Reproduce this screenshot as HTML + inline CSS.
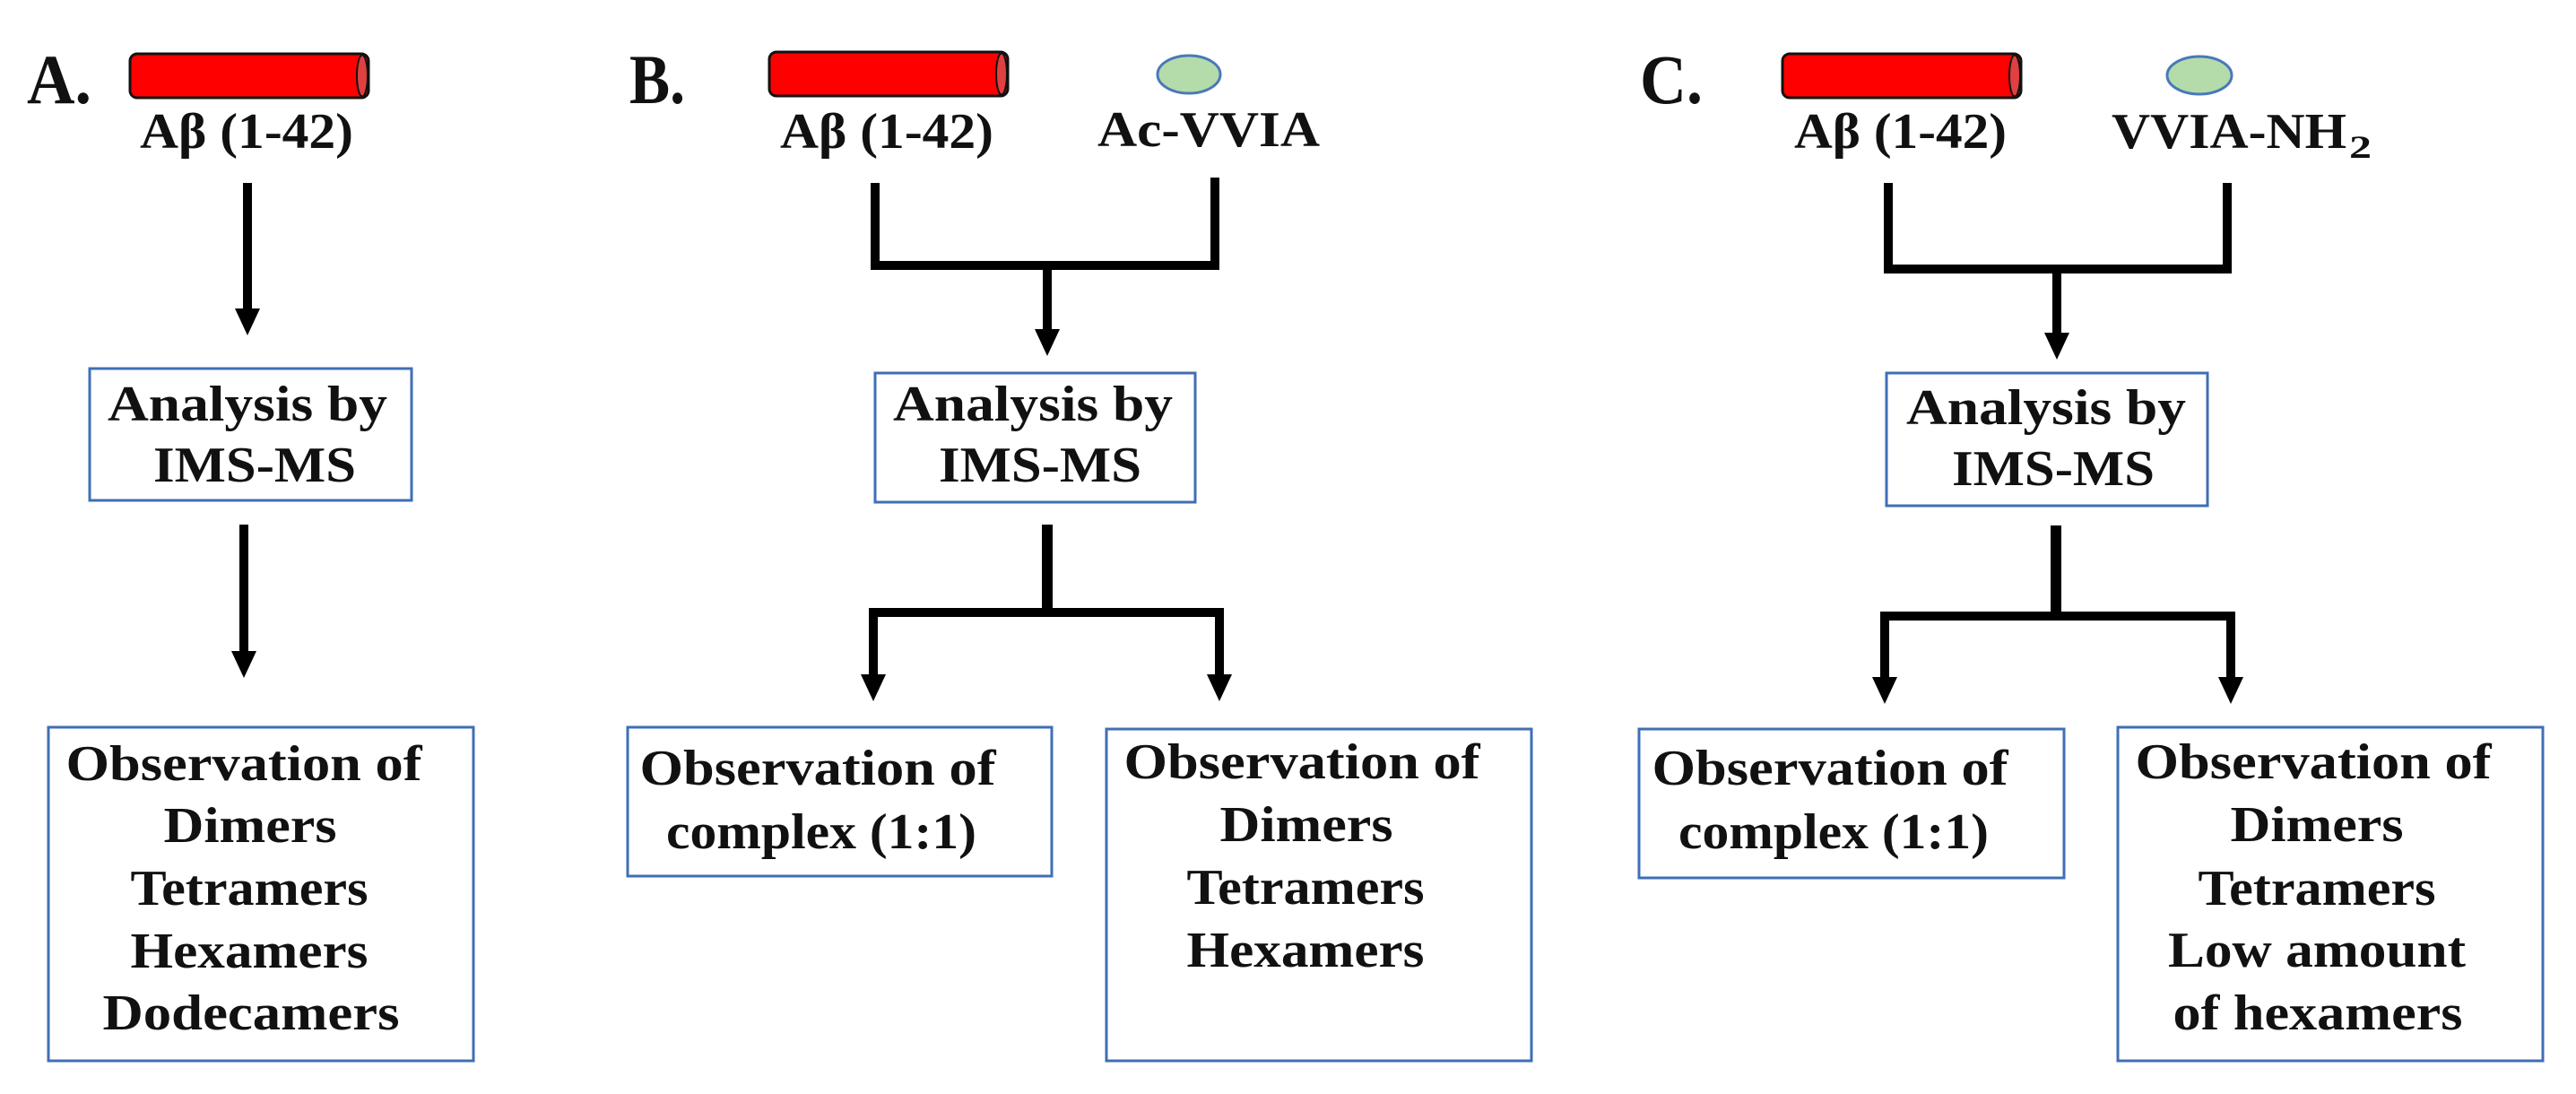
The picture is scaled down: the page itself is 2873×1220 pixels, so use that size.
<!DOCTYPE html>
<html><head><meta charset="utf-8"><style>
html,body{margin:0;padding:0;background:#fff;}
svg{display:block;}
text{font-family:"Liberation Serif",serif;font-weight:bold;fill:#111;}
</style></head><body>
<svg width="2873" height="1220" viewBox="0 0 2873 1220" xmlns="http://www.w3.org/2000/svg">
<defs>
<g id="tube">
<rect x="0" y="0" width="266" height="49" rx="8" fill="#ff0000" stroke="#111" stroke-width="3"/>
<ellipse cx="259" cy="24.5" rx="6" ry="23" fill="#e04040" stroke="#111" stroke-width="2"/>
</g>
</defs>
<g fill="none" stroke="#000" stroke-width="10">
<line x1="276" y1="204" x2="276" y2="350"/>
<line x1="272" y1="585" x2="272" y2="730"/>
<polyline points="976,204 976,296 1355,296 1355,198"/>
<line x1="1168" y1="296" x2="1168" y2="372"/>
<line x1="1168" y1="585" x2="1168" y2="685" stroke-width="12"/>
<polyline points="974,757 974,683 1360,683 1360,757"/>
<polyline points="2106,204 2106,300 2484,300 2484,204"/>
<line x1="2294" y1="300" x2="2294" y2="376"/>
<line x1="2293" y1="586" x2="2293" y2="687" stroke-width="12"/>
<polyline points="2102,760 2102,687 2488,687 2488,760"/>
</g>
<g fill="#000">
<polygon points="262,344 290,344 276,374"/>
<polygon points="258,726 286,726 272,756"/>
<polygon points="1154,367 1182,367 1168,397"/>
<polygon points="960,752 988,752 974,782"/>
<polygon points="1346,752 1374,752 1360,782"/>
<polygon points="2280,371 2308,371 2294,401"/>
<polygon points="2088,755 2116,755 2102,785"/>
<polygon points="2474,755 2502,755 2488,785"/>
</g>
<use href="#tube" x="145" y="60"/>
<use href="#tube" x="858" y="58"/>
<use href="#tube" x="1988" y="60"/>
<ellipse cx="1326" cy="83" rx="35" ry="21" fill="#b3dcaa" stroke="#4a78b8" stroke-width="3"/>
<ellipse cx="2453" cy="84" rx="36" ry="21" fill="#b3dcaa" stroke="#4a78b8" stroke-width="3"/>
<g fill="none" stroke="#3f6fb5" stroke-width="3">
<rect x="100" y="411" width="359" height="147"/>
<rect x="54" y="811" width="474" height="372"/>
<rect x="976" y="416" width="357" height="144"/>
<rect x="700" y="811" width="473" height="166"/>
<rect x="1234" y="813" width="474" height="370"/>
<rect x="2104" y="416" width="358" height="148"/>
<rect x="1828" y="813" width="474" height="166"/>
<rect x="2362" y="811" width="474" height="372"/>
</g>
<g font-size="78">
<text x="30" y="115" textLength="72" lengthAdjust="spacingAndGlyphs">A.</text>
<text x="702" y="115" textLength="62" lengthAdjust="spacingAndGlyphs">B.</text>
<text x="1829" y="115" textLength="70" lengthAdjust="spacingAndGlyphs">C.</text>
</g>
<g font-size="56">
<text x="156" y="165" textLength="238" lengthAdjust="spacingAndGlyphs">Aβ (1-42)</text>
<text x="870" y="165" textLength="238" lengthAdjust="spacingAndGlyphs">Aβ (1-42)</text>
<text x="2001" y="165" textLength="237" lengthAdjust="spacingAndGlyphs">Aβ (1-42)</text>
<text x="1224" y="163" textLength="248" lengthAdjust="spacingAndGlyphs">Ac-VVIA</text>
<text x="2355" y="165" textLength="262" lengthAdjust="spacingAndGlyphs">VVIA-NH</text>
<text x="2620" y="176" font-size="36" textLength="25" lengthAdjust="spacingAndGlyphs">2</text>
</g>
<g font-size="56" text-anchor="middle">
<text x="276" y="469" textLength="312" lengthAdjust="spacingAndGlyphs">Analysis by</text>
<text x="284" y="537" textLength="226" lengthAdjust="spacingAndGlyphs">IMS-MS</text>
<text x="1152" y="469" textLength="312" lengthAdjust="spacingAndGlyphs">Analysis by</text>
<text x="1160" y="537" textLength="226" lengthAdjust="spacingAndGlyphs">IMS-MS</text>
<text x="2282" y="473" textLength="312" lengthAdjust="spacingAndGlyphs">Analysis by</text>
<text x="2290" y="541" textLength="226" lengthAdjust="spacingAndGlyphs">IMS-MS</text>

<text x="272" y="870" textLength="397" lengthAdjust="spacingAndGlyphs">Observation of</text>
<text x="279" y="939" textLength="193" lengthAdjust="spacingAndGlyphs">Dimers</text>
<text x="278" y="1009" textLength="265" lengthAdjust="spacingAndGlyphs">Tetramers</text>
<text x="278" y="1079" textLength="265" lengthAdjust="spacingAndGlyphs">Hexamers</text>
<text x="280" y="1148" textLength="331" lengthAdjust="spacingAndGlyphs">Dodecamers</text>

<text x="912" y="875" textLength="397" lengthAdjust="spacingAndGlyphs">Observation of</text>
<text x="916" y="946" textLength="346" lengthAdjust="spacingAndGlyphs">complex (1:1)</text>
<text x="1452" y="868" textLength="397" lengthAdjust="spacingAndGlyphs">Observation of</text>
<text x="1457" y="938" textLength="193" lengthAdjust="spacingAndGlyphs">Dimers</text>
<text x="1456" y="1008" textLength="265" lengthAdjust="spacingAndGlyphs">Tetramers</text>
<text x="1456" y="1078" textLength="265" lengthAdjust="spacingAndGlyphs">Hexamers</text>

<text x="2041" y="875" textLength="397" lengthAdjust="spacingAndGlyphs">Observation of</text>
<text x="2045" y="946" textLength="346" lengthAdjust="spacingAndGlyphs">complex (1:1)</text>
<text x="2580" y="868" textLength="397" lengthAdjust="spacingAndGlyphs">Observation of</text>
<text x="2584" y="938" textLength="193" lengthAdjust="spacingAndGlyphs">Dimers</text>
<text x="2584" y="1009" textLength="265" lengthAdjust="spacingAndGlyphs">Tetramers</text>
<text x="2584" y="1078" textLength="332" lengthAdjust="spacingAndGlyphs">Low amount</text>
<text x="2585" y="1148" textLength="323" lengthAdjust="spacingAndGlyphs">of hexamers</text>
</g>
</svg>
</body></html>
